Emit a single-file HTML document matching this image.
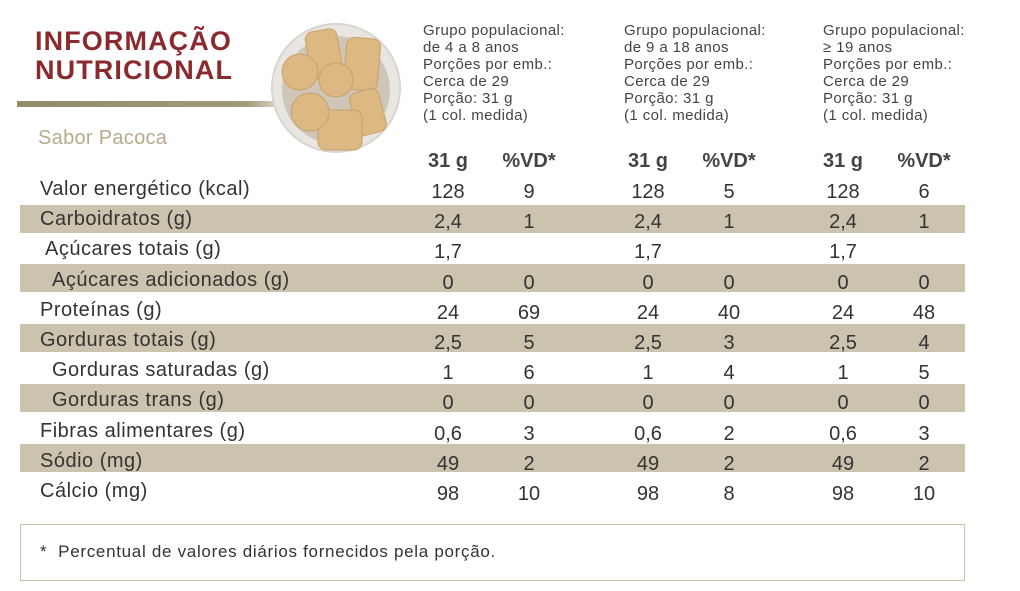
<!DOCTYPE html>
<html><head><meta charset="utf-8"><style>
body{margin:0;width:1020px;height:591px;background:#fff;position:relative;overflow:hidden;font-family:"Liberation Sans",sans-serif;color:#333}
.a{position:absolute;white-space:nowrap}
.t{left:35px;top:27px;font-size:27px;font-weight:bold;color:#8b2a2e;line-height:29px;letter-spacing:1.1px}
.band{position:absolute;left:20px;width:945px;height:28px;background:#cbc3ad}
.h{font-size:15px;line-height:17px;color:#444;letter-spacing:0.4px}
.r{position:absolute;left:0;width:1020px;height:30px;font-size:20px;color:#333}
.r span{position:absolute;top:0}
.lab{letter-spacing:0.5px}
.c{width:60px;text-align:center}
</style></head><body>
<div class="a t">INFORMAÇÃO<br>NUTRICIONAL</div>
<div class="a" style="left:17px;top:101px;width:270px;height:6px;background:linear-gradient(90deg,#958a66,#a49a78 85%,#e8e4da)"></div>
<div class="a" style="left:38px;top:127px;font-size:20px;color:#b6ab8c;letter-spacing:0.3px">Sabor Pacoca</div>
<svg class="a" style="left:268px;top:20px" width="136" height="140">
<circle cx="68" cy="68" r="64" fill="#e9e6e2" stroke="#d8d4cf" stroke-width="2"/>
<circle cx="68" cy="70" r="54" fill="#cfc6b8"/>
<g fill="#dcb883" stroke="#c9a068" stroke-width="1">
<rect x="40" y="10" width="32" height="48" rx="8" transform="rotate(-10 56 34)"/>
<rect x="77" y="18" width="34" height="52" rx="8" transform="rotate(5 94 44)"/>
<rect x="85" y="70" width="30" height="44" rx="8" transform="rotate(-15 100 92)"/>
<rect x="50" y="90" width="44" height="40" rx="8"/>
<circle cx="32" cy="52" r="18"/><circle cx="68" cy="60" r="17"/><circle cx="42" cy="92" r="19"/></g>
</svg>
<div class="a h" style="left:423px;top:22px">Grupo populacional:<br>de 4 a 8 anos<br>Porções por emb.:<br>Cerca de 29<br>Porção: 31 g<br>(1 col. medida)</div>
<div class="a h" style="left:624px;top:22px">Grupo populacional:<br>de 9 a 18 anos<br>Porções por emb.:<br>Cerca de 29<br>Porção: 31 g<br>(1 col. medida)</div>
<div class="a h" style="left:823px;top:22px">Grupo populacional:<br>≥ 19 anos<br>Porções por emb.:<br>Cerca de 29<br>Porção: 31 g<br>(1 col. medida)</div>
<div class="r" style="top:150px;font-weight:bold;color:#444"><span class="c" style="left:418px">31 g</span><span class="c" style="left:499px">%VD*</span><span class="c" style="left:618px">31 g</span><span class="c" style="left:699px">%VD*</span><span class="c" style="left:813px">31 g</span><span class="c" style="left:894px">%VD*</span></div>
<div class="band" style="top:205px"></div><div class="band" style="top:264px"></div><div class="band" style="top:324px"></div><div class="band" style="top:384px"></div><div class="band" style="top:444px"></div>
<div id="rows"></div>
<script>
var d=[["Valor energético (kcal)",40,"128","9","128","5","128","6"],["Carboidratos (g)",40,"2,4","1","2,4","1","2,4","1"],["Açúcares totais (g)",45,"1,7","","1,7","","1,7",""],["Açúcares adicionados (g)",52,"0","0","0","0","0","0"],["Proteínas (g)",40,"24","69","24","40","24","48"],["Gorduras totais (g)",40,"2,5","5","2,5","3","2,5","4"],["Gorduras saturadas (g)",52,"1","6","1","4","1","5"],["Gorduras trans (g)",52,"0","0","0","0","0","0"],["Fibras alimentares (g)",40,"0,6","3","0,6","2","0,6","3"],["Sódio (mg)",40,"49","2","49","2","49","2"],["Cálcio (mg)",40,"98","10","98","8","98","10"]];
var xs=[418,499,618,699,813,894],h="";
d.forEach(function(r,i){var y=178+i*30.2;h+='<div class="r" style="top:'+y+'px"><span class="lab" style="left:'+r[1]+'px">'+r[0]+'</span>';for(var k=0;k<6;k++)h+='<span class="c" style="top:3px;left:'+xs[k]+'px">'+r[k+2]+'</span>';h+='</div>';});
document.getElementById("rows").innerHTML=h;
</script>
<div class="a" style="left:20px;top:524px;width:943px;height:55px;border:1px solid #c9c1a9"></div>
<div class="a" style="left:40px;top:542px;font-size:17px;color:#333;letter-spacing:0.7px">*&nbsp; Percentual de valores diários fornecidos pela porção.</div>
</body></html>
